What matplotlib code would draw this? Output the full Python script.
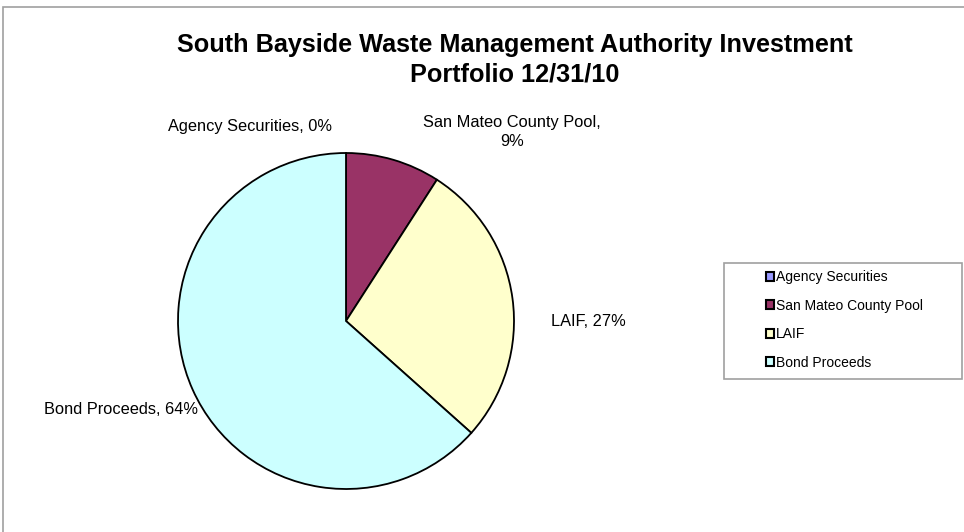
import matplotlib
matplotlib.use("Agg")
import matplotlib.pyplot as plt
from matplotlib.patches import Rectangle, Patch

categories = ["Agency Securities", "San Mateo County Pool", "LAIF", "Bond Proceeds"]
values = [0.0, 9.1, 27.5, 63.4]
pct_labels = ["0%", "9%", "27%", "64%"]
colors = ["#9999FF", "#993366", "#FFFFCC", "#CCFFFF"]
title = "South Bayside Waste Management Authority Investment\nPortfolio 12/31/10"

plt.rcParams['font.family'] = ['Liberation Sans', 'DejaVu Sans']

W, H = 964, 532
fig = plt.figure(figsize=(W / 100, H / 100), dpi=100)

# outer chart border
fig.patches.append(Rectangle((3 / W, -0.05), 1.1, (H - 7) / H + 0.05, transform=fig.transFigure,
                             fill=False, edgecolor="#A0A0A0", linewidth=1.2))

cx, cy, r = 346, 321, 168
ax = fig.add_axes([(cx - r) / W, (H - cy - r) / H, 2 * r / W, 2 * r / H])
wedges, _ = ax.pie(values, colors=colors, startangle=90, counterclock=False,
                   wedgeprops=dict(edgecolor="black", linewidth=1.3), radius=1.0)
ax.set_xlim(-1, 1)
ax.set_ylim(-1, 1)
ax.set_aspect("auto")
ax.axis("off")

fig.text(515 / W, 1 - 60 / H, title, ha="center", va="center", fontsize=18.2,
         fontweight="bold", linespacing=1.3)

def ftext(x, y, s, **kw):
    fig.text(x / W, 1 - y / H, s, ha="center", va="center", fontsize=11.8, **kw)

ftext(250, 127, f"{categories[0]}, {pct_labels[0]}")
ftext(512, 132, f"{categories[1]},\n{pct_labels[1]}", linespacing=1.27)
ftext(588, 322, f"{categories[2]}, {pct_labels[2]}")
ftext(121, 410, f"{categories[3]}, {pct_labels[3]}")

# legend frame
fig.patches.append(Rectangle((724 / W, 1 - 379 / H), 238 / W, 116 / H, transform=fig.transFigure,
                             fill=False, edgecolor="#A0A0A0", linewidth=1.2))
handles = [Patch(facecolor=c, edgecolor="black", linewidth=1.5) for c in colors]
leg = fig.legend(handles, categories, loc="upper left", bbox_to_anchor=(766 / W, 1 - 270 / H),
                 frameon=False, fontsize=10, handlelength=0.6, handleheight=0.6,
                 handletextpad=0.1, labelspacing=1.05, borderpad=0, borderaxespad=0)

fig.savefig("out.png", dpi=100)
